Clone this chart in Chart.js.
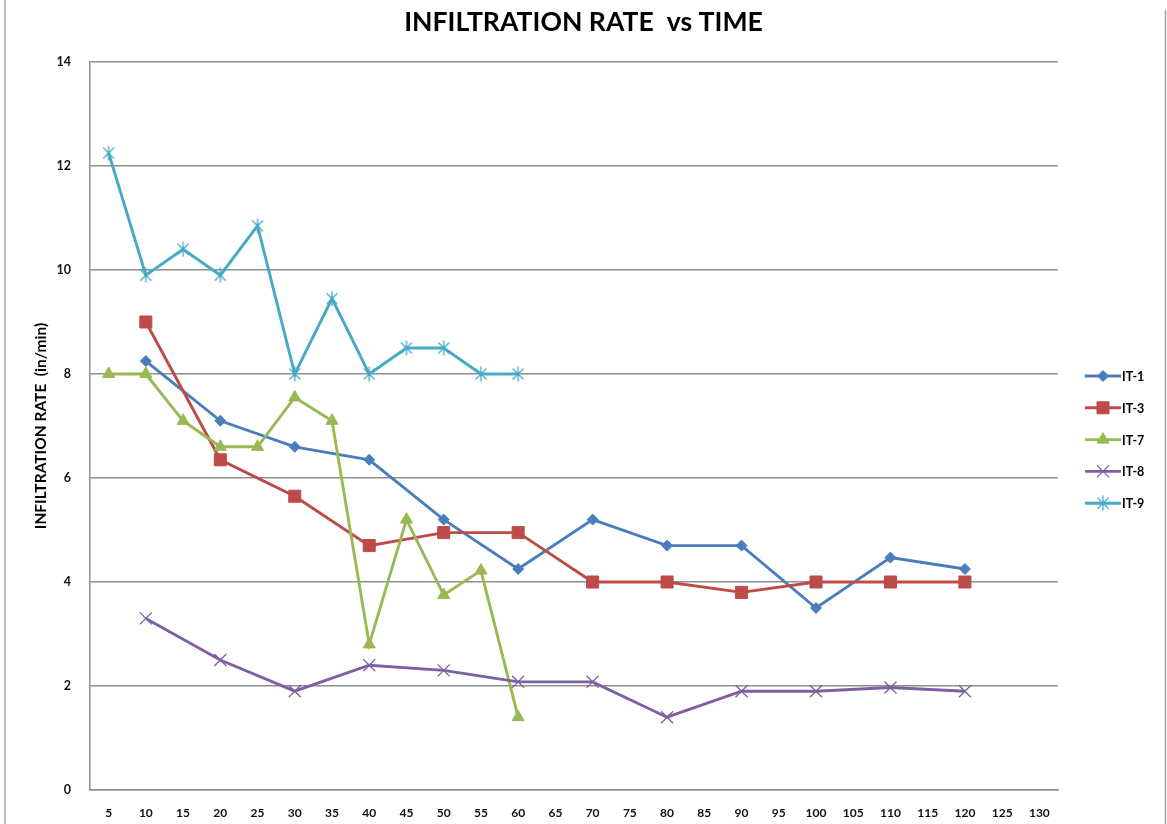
<!DOCTYPE html>
<html>
<head>
<meta charset="utf-8">
<title>Infiltration rate vs time</title>
<script src="https://cdn.jsdelivr.net/npm/chart.js@4/dist/chart.umd.min.js"></script>
<style>
  html, body { margin: 0; padding: 0; background: #ffffff; }
  #wrap { position: relative; width: 1167px; height: 824px; }
</style>
</head>
<body>
<div id="wrap"><canvas id="chart" width="1167" height="824"></canvas></div>
<script>
// Time categories (min)
const times = ['5','10','15','20','25','30','35','40','45','50','55','60','65','70','75',
               '80','85','90','95','100','105','110','115','120','125','130'];

// Infiltration rate (in/min) per test, aligned to the time categories (null = no reading)
const it1 = [null, 8.25, null, 7.1, null, 6.6, null, 6.35, null, 5.2, null, 4.25, null, 5.2, null,
             4.7, null, 4.7, null, 3.5, null, 4.47, null, 4.25, null, null];
const it3 = [null, 9.0, null, 6.35, null, 5.65, null, 4.7, null, 4.95, null, 4.95, null, 4.0, null,
             4.0, null, 3.8, null, 4.0, null, 4.0, null, 4.0, null, null];
const it7 = [8.0, 8.0, 7.1, 6.6, 6.6, 7.55, 7.1, 2.8, 5.2, 3.75, 4.22, 1.4, null, null, null,
             null, null, null, null, null, null, null, null, null, null, null];
const it8 = [null, 3.3, null, 2.5, null, 1.9, null, 2.4, null, 2.3, null, 2.08, null, 2.08, null,
             1.4, null, 1.9, null, 1.9, null, 1.97, null, 1.9, null, null];
const it9 = [12.25, 9.9, 10.4, 9.9, 10.85, 8.0, 9.45, 8.0, 8.5, 8.5, 8.0, 8.0, null, null, null,
             null, null, null, null, null, null, null, null, null, null, null];

const seriesNames = ['IT-1', 'IT-3', 'IT-7', 'IT-8', 'IT-9'];
const yTicks = [0, 2, 4, 6, 8, 10, 12, 14];

const COLORS = ['#4a7ebb', '#be4b48', '#98b954', '#7d60a0', '#46aac5'];
const FONT = 'Lato, "Open Sans", "DejaVu Sans", sans-serif';

// Asterisk marker: an X with a vertical stroke through it
function asteriskMarker(color) {
  const size = 16;
  const c = document.createElement('canvas');
  c.width = size; c.height = size;
  const g = c.getContext('2d');
  g.strokeStyle = color;
  g.lineWidth = 1.3;
  const m = size / 2, d = 5.5, v = 7.5;
  g.beginPath();
  g.moveTo(m - d, m - d); g.lineTo(m + d, m + d);
  g.moveTo(m + d, m - d); g.lineTo(m - d, m + d);
  g.moveTo(m, m - v); g.lineTo(m, m + v);
  g.stroke();
  return c;
}

const markers = [
  { pointStyle: 'rectRot', radius: 5.5, borderWidth: 1 },
  { pointStyle: 'rect', radius: 8.5, borderWidth: 1 },
  { pointStyle: 'triangle', radius: 7, borderWidth: 1 },
  { pointStyle: 'crossRot', radius: 8.5, borderWidth: 1.3 },
  { pointStyle: asteriskMarker(COLORS[4]), radius: 8, borderWidth: 1 }
];

const values = [it1, it3, it7, it8, it9];

const datasets = values.map((v, i) => ({
  label: seriesNames[i],
  data: v,
  borderColor: COLORS[i],
  backgroundColor: COLORS[i],
  borderWidth: 2.9,
  pointStyle: markers[i].pointStyle,
  pointRadius: markers[i].radius,
  pointBorderWidth: markers[i].borderWidth,
  pointBackgroundColor: COLORS[i],
  pointBorderColor: COLORS[i],
  pointHoverRadius: markers[i].radius,
  spanGaps: true,
  tension: 0,
  order: values.length - 1 - i
}));

// Grey frame around the whole figure
const framePlugin = {
  id: 'frame',
  beforeDraw(chart) {
    const ctx = chart.ctx;
    ctx.save();
    ctx.strokeStyle = '#a6a6a6';
    ctx.lineWidth = 1.5;
    ctx.beginPath();
    ctx.moveTo(5, 0); ctx.lineTo(5, chart.height);
    ctx.moveTo(1165.5, 10); ctx.lineTo(1165.5, chart.height);
    ctx.stroke();
    ctx.restore();
  }
};

// Legend on the right: a short line with the series marker, then the name
const sideLegend = {
  id: 'sideLegend',
  afterDraw(chart) {
    const ctx = chart.ctx;
    const x0 = chart.chartArea.right + 27;
    const lineLen = 36;
    const yStart = 376, step = 31.8;
    ctx.save();
    chart.data.datasets.forEach((ds, i) => {
      const y = yStart + i * step;
      ctx.strokeStyle = ds.borderColor;
      ctx.fillStyle = ds.backgroundColor;
      ctx.lineWidth = 2.9;
      ctx.beginPath();
      ctx.moveTo(x0, y); ctx.lineTo(x0 + lineLen, y);
      ctx.stroke();
      ctx.lineWidth = ds.pointBorderWidth;
      Chart.helpers.drawPoint(ctx, {
        pointStyle: ds.pointStyle,
        radius: ds.pointRadius,
        rotation: 0,
        borderWidth: ds.pointBorderWidth
      }, x0 + lineLen / 2, y);
      ctx.fillStyle = '#000000';
      ctx.font = 'bold 12.5px ' + FONT;
      ctx.textBaseline = 'middle';
      ctx.textAlign = 'left';
      ctx.fillText(ds.label, x0 + lineLen + 1, y + 1);
    });
    ctx.restore();
  }
};

new Chart(document.getElementById('chart'), {
  type: 'line',
  data: { labels: times, datasets },
  options: {
    responsive: false,
    animation: false,
    events: [],
    layout: { padding: { left: 0, right: 0, top: 0, bottom: 0 } },
    plugins: {
      legend: { display: false },
      tooltip: { enabled: false },
      title: {
        display: true,
        text: 'INFILTRATION RATE  vs TIME',
        color: '#000000',
        font: { family: FONT, size: 26.6, weight: 'bold', lineHeight: 1.2 },
        padding: { top: 6.5, bottom: 23.6 }
      }
    },
    scales: {
      x: {
        type: 'category',
        offset: true,
        grid: { display: false, drawTicks: false },
        border: { display: true, color: '#8e8e8e', width: 1.5 },
        ticks: {
          autoSkip: false, maxRotation: 0, minRotation: 0,
          padding: 16, color: '#111111',
          font: { family: FONT, size: 12, weight: 'bold' }
        },
        afterFit(s) { s.height = 34; }
      },
      y: {
        position: 'left',
        min: 0, max: 14,
        afterBuildTicks(s) { s.ticks = yTicks.map(v => ({ value: v })); },
        grid: { color: '#8e8e8e', lineWidth: 1.5, drawTicks: false },
        border: { display: true, color: '#8e8e8e', width: 1.5 },
        ticks: {
          padding: 19, color: '#111111',
          font: { family: FONT, size: 12.5, weight: 'bold' }
        },
        title: {
          display: true,
          text: 'INFILTRATION RATE  (in/min)',
          color: '#000000',
          font: { family: FONT, size: 15.5, weight: 'bold' },
          padding: { top: 32, bottom: 0 }
        },
        afterFit(s) { s.width = 90; }
      },
      legendSpace: {
        position: 'right',
        type: 'linear',
        display: true,
        grid: { display: false, drawTicks: false },
        border: { display: false },
        ticks: { display: false },
        afterFit(s) { s.width = 109; }
      }
    }
  },
  plugins: [framePlugin, sideLegend]
});
</script>
</body>
</html>
